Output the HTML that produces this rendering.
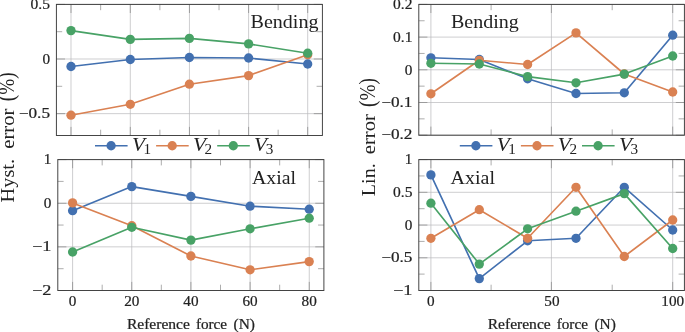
<!DOCTYPE html>
<html><head><meta charset="utf-8"><title>Hysteresis and linearity error</title>
<style>html,body{margin:0;padding:0;background:#fff;}svg{display:block;will-change:transform;}text{font-family:"Liberation Serif",serif;fill:#222222;}</style>
</head><body>
<svg width="685" height="332" viewBox="0 0 685 332">
<rect x="0" y="0" width="685" height="332" fill="#ffffff"/>
<line x1="71.0" y1="4.4" x2="71.0" y2="135.5" stroke="#b9b9bc" stroke-width="0.7"/>
<line x1="130.3" y1="4.4" x2="130.3" y2="135.5" stroke="#b9b9bc" stroke-width="0.7"/>
<line x1="189.45" y1="4.4" x2="189.45" y2="135.5" stroke="#b9b9bc" stroke-width="0.7"/>
<line x1="248.6" y1="4.4" x2="248.6" y2="135.5" stroke="#b9b9bc" stroke-width="0.7"/>
<line x1="307.7" y1="4.4" x2="307.7" y2="135.5" stroke="#b9b9bc" stroke-width="0.7"/>
<line x1="56.4" y1="4.4" x2="322.4" y2="4.4" stroke="#b9b9bc" stroke-width="0.7"/>
<line x1="56.4" y1="59.0" x2="322.4" y2="59.0" stroke="#b9b9bc" stroke-width="0.7"/>
<line x1="56.4" y1="113.65" x2="322.4" y2="113.65" stroke="#b9b9bc" stroke-width="0.7"/>
<line x1="71.0" y1="4.4" x2="71.0" y2="13.0" stroke="#7e7e7e" stroke-width="0.64"/>
<line x1="71.0" y1="135.5" x2="71.0" y2="126.9" stroke="#7e7e7e" stroke-width="0.64"/>
<line x1="130.3" y1="4.4" x2="130.3" y2="13.0" stroke="#7e7e7e" stroke-width="0.64"/>
<line x1="130.3" y1="135.5" x2="130.3" y2="126.9" stroke="#7e7e7e" stroke-width="0.64"/>
<line x1="189.45" y1="4.4" x2="189.45" y2="13.0" stroke="#7e7e7e" stroke-width="0.64"/>
<line x1="189.45" y1="135.5" x2="189.45" y2="126.9" stroke="#7e7e7e" stroke-width="0.64"/>
<line x1="248.6" y1="4.4" x2="248.6" y2="13.0" stroke="#7e7e7e" stroke-width="0.64"/>
<line x1="248.6" y1="135.5" x2="248.6" y2="126.9" stroke="#7e7e7e" stroke-width="0.64"/>
<line x1="307.7" y1="4.4" x2="307.7" y2="13.0" stroke="#7e7e7e" stroke-width="0.64"/>
<line x1="307.7" y1="135.5" x2="307.7" y2="126.9" stroke="#7e7e7e" stroke-width="0.64"/>
<line x1="56.4" y1="4.4" x2="65.0" y2="4.4" stroke="#7e7e7e" stroke-width="0.64"/>
<line x1="322.4" y1="4.4" x2="313.79999999999995" y2="4.4" stroke="#7e7e7e" stroke-width="0.64"/>
<line x1="56.4" y1="59.0" x2="65.0" y2="59.0" stroke="#7e7e7e" stroke-width="0.64"/>
<line x1="322.4" y1="59.0" x2="313.79999999999995" y2="59.0" stroke="#7e7e7e" stroke-width="0.64"/>
<line x1="56.4" y1="113.65" x2="65.0" y2="113.65" stroke="#7e7e7e" stroke-width="0.64"/>
<line x1="322.4" y1="113.65" x2="313.79999999999995" y2="113.65" stroke="#7e7e7e" stroke-width="0.64"/>
<line x1="100.65" y1="4.4" x2="100.65" y2="10.2" stroke="#7e7e7e" stroke-width="0.64"/>
<line x1="100.65" y1="135.5" x2="100.65" y2="129.7" stroke="#7e7e7e" stroke-width="0.64"/>
<line x1="159.875" y1="4.4" x2="159.875" y2="10.2" stroke="#7e7e7e" stroke-width="0.64"/>
<line x1="159.875" y1="135.5" x2="159.875" y2="129.7" stroke="#7e7e7e" stroke-width="0.64"/>
<line x1="219.02499999999998" y1="4.4" x2="219.02499999999998" y2="10.2" stroke="#7e7e7e" stroke-width="0.64"/>
<line x1="219.02499999999998" y1="135.5" x2="219.02499999999998" y2="129.7" stroke="#7e7e7e" stroke-width="0.64"/>
<line x1="278.15" y1="4.4" x2="278.15" y2="10.2" stroke="#7e7e7e" stroke-width="0.64"/>
<line x1="278.15" y1="135.5" x2="278.15" y2="129.7" stroke="#7e7e7e" stroke-width="0.64"/>
<line x1="56.4" y1="31.7" x2="62.199999999999996" y2="31.7" stroke="#7e7e7e" stroke-width="0.64"/>
<line x1="322.4" y1="31.7" x2="316.59999999999997" y2="31.7" stroke="#7e7e7e" stroke-width="0.64"/>
<line x1="56.4" y1="86.3" x2="62.199999999999996" y2="86.3" stroke="#7e7e7e" stroke-width="0.64"/>
<line x1="322.4" y1="86.3" x2="316.59999999999997" y2="86.3" stroke="#7e7e7e" stroke-width="0.64"/>
<polyline points="71.0,66.5 130.3,59.5 189.4,57.5 248.6,58.0 307.7,64.0" fill="none" stroke="#4270b0" stroke-width="1.65" stroke-linejoin="round"/>
<circle cx="71.0" cy="66.5" r="4.65" fill="#4270b0"/>
<circle cx="130.3" cy="59.5" r="4.65" fill="#4270b0"/>
<circle cx="189.4" cy="57.5" r="4.65" fill="#4270b0"/>
<circle cx="248.6" cy="58.0" r="4.65" fill="#4270b0"/>
<circle cx="307.7" cy="64.0" r="4.65" fill="#4270b0"/>
<polyline points="71.0,115.2 130.3,104.3 189.4,84.2 248.6,75.6 307.7,54.7" fill="none" stroke="#da8152" stroke-width="1.65" stroke-linejoin="round"/>
<circle cx="71.0" cy="115.2" r="4.65" fill="#da8152"/>
<circle cx="130.3" cy="104.3" r="4.65" fill="#da8152"/>
<circle cx="189.4" cy="84.2" r="4.65" fill="#da8152"/>
<circle cx="248.6" cy="75.6" r="4.65" fill="#da8152"/>
<circle cx="307.7" cy="54.7" r="4.65" fill="#da8152"/>
<polyline points="71.0,30.6 130.3,39.4 189.4,38.4 248.6,43.9 307.7,53.2" fill="none" stroke="#48a266" stroke-width="1.65" stroke-linejoin="round"/>
<circle cx="71.0" cy="30.6" r="4.65" fill="#48a266"/>
<circle cx="130.3" cy="39.4" r="4.65" fill="#48a266"/>
<circle cx="189.4" cy="38.4" r="4.65" fill="#48a266"/>
<circle cx="248.6" cy="43.9" r="4.65" fill="#48a266"/>
<circle cx="307.7" cy="53.2" r="4.65" fill="#48a266"/>
<rect x="56.4" y="4.4" width="266.0" height="131.1" fill="none" stroke="#3c3c3c" stroke-width="0.95"/>
<text x="30.6" y="9.1" font-size="14.2" text-anchor="start" textLength="19.4" lengthAdjust="spacingAndGlyphs" stroke="#222222" stroke-width="0.22">0.5</text>
<text x="42.4" y="63.7" font-size="14.2" text-anchor="start" textLength="7.6" lengthAdjust="spacingAndGlyphs" stroke="#222222" stroke-width="0.22">0</text>
<text x="18.8" y="117.8" font-size="14.2" text-anchor="start" textLength="31.2" lengthAdjust="spacingAndGlyphs" stroke="#222222" stroke-width="0.22">−0.5</text>
<text x="250.6" y="28.4" font-size="18.8" text-anchor="start" textLength="67.8" lengthAdjust="spacingAndGlyphs">Bending</text>
<line x1="95.0" y1="145.75" x2="127.6" y2="145.75" stroke="#4270b0" stroke-width="1.65"/>
<circle cx="111.1" cy="145.75" r="4.65" fill="#4270b0"/>
<text x="131.9" y="151.3" font-size="19.8" font-style="italic" textLength="13.0" lengthAdjust="spacingAndGlyphs">V</text>
<text x="143.5" y="154.2" font-size="14.8" textLength="7.6" lengthAdjust="spacingAndGlyphs">1</text>
<line x1="156.1" y1="145.75" x2="188.7" y2="145.75" stroke="#da8152" stroke-width="1.65"/>
<circle cx="172.2" cy="145.75" r="4.65" fill="#da8152"/>
<text x="193.0" y="151.3" font-size="19.8" font-style="italic" textLength="13.0" lengthAdjust="spacingAndGlyphs">V</text>
<text x="204.6" y="154.2" font-size="14.8" textLength="7.6" lengthAdjust="spacingAndGlyphs">2</text>
<line x1="217.2" y1="145.75" x2="249.8" y2="145.75" stroke="#48a266" stroke-width="1.65"/>
<circle cx="233.3" cy="145.75" r="4.65" fill="#48a266"/>
<text x="254.1" y="151.3" font-size="19.8" font-style="italic" textLength="13.0" lengthAdjust="spacingAndGlyphs">V</text>
<text x="265.7" y="154.2" font-size="14.8" textLength="7.6" lengthAdjust="spacingAndGlyphs">3</text>
<line x1="72.6" y1="159.6" x2="72.6" y2="290.5" stroke="#b9b9bc" stroke-width="0.7"/>
<line x1="131.75" y1="159.6" x2="131.75" y2="290.5" stroke="#b9b9bc" stroke-width="0.7"/>
<line x1="190.9" y1="159.6" x2="190.9" y2="290.5" stroke="#b9b9bc" stroke-width="0.7"/>
<line x1="250.1" y1="159.6" x2="250.1" y2="290.5" stroke="#b9b9bc" stroke-width="0.7"/>
<line x1="309.25" y1="159.6" x2="309.25" y2="290.5" stroke="#b9b9bc" stroke-width="0.7"/>
<line x1="57.8" y1="159.6" x2="323.85" y2="159.6" stroke="#b9b9bc" stroke-width="0.7"/>
<line x1="57.8" y1="203.25" x2="323.85" y2="203.25" stroke="#b9b9bc" stroke-width="0.7"/>
<line x1="57.8" y1="246.85" x2="323.85" y2="246.85" stroke="#b9b9bc" stroke-width="0.7"/>
<line x1="57.8" y1="290.5" x2="323.85" y2="290.5" stroke="#b9b9bc" stroke-width="0.7"/>
<line x1="72.6" y1="159.6" x2="72.6" y2="168.2" stroke="#7e7e7e" stroke-width="0.64"/>
<line x1="72.6" y1="290.5" x2="72.6" y2="281.9" stroke="#7e7e7e" stroke-width="0.64"/>
<line x1="131.75" y1="159.6" x2="131.75" y2="168.2" stroke="#7e7e7e" stroke-width="0.64"/>
<line x1="131.75" y1="290.5" x2="131.75" y2="281.9" stroke="#7e7e7e" stroke-width="0.64"/>
<line x1="190.9" y1="159.6" x2="190.9" y2="168.2" stroke="#7e7e7e" stroke-width="0.64"/>
<line x1="190.9" y1="290.5" x2="190.9" y2="281.9" stroke="#7e7e7e" stroke-width="0.64"/>
<line x1="250.1" y1="159.6" x2="250.1" y2="168.2" stroke="#7e7e7e" stroke-width="0.64"/>
<line x1="250.1" y1="290.5" x2="250.1" y2="281.9" stroke="#7e7e7e" stroke-width="0.64"/>
<line x1="309.25" y1="159.6" x2="309.25" y2="168.2" stroke="#7e7e7e" stroke-width="0.64"/>
<line x1="309.25" y1="290.5" x2="309.25" y2="281.9" stroke="#7e7e7e" stroke-width="0.64"/>
<line x1="57.8" y1="159.6" x2="66.39999999999999" y2="159.6" stroke="#7e7e7e" stroke-width="0.64"/>
<line x1="323.85" y1="159.6" x2="315.25" y2="159.6" stroke="#7e7e7e" stroke-width="0.64"/>
<line x1="57.8" y1="203.25" x2="66.39999999999999" y2="203.25" stroke="#7e7e7e" stroke-width="0.64"/>
<line x1="323.85" y1="203.25" x2="315.25" y2="203.25" stroke="#7e7e7e" stroke-width="0.64"/>
<line x1="57.8" y1="246.85" x2="66.39999999999999" y2="246.85" stroke="#7e7e7e" stroke-width="0.64"/>
<line x1="323.85" y1="246.85" x2="315.25" y2="246.85" stroke="#7e7e7e" stroke-width="0.64"/>
<line x1="57.8" y1="290.5" x2="66.39999999999999" y2="290.5" stroke="#7e7e7e" stroke-width="0.64"/>
<line x1="323.85" y1="290.5" x2="315.25" y2="290.5" stroke="#7e7e7e" stroke-width="0.64"/>
<line x1="102.175" y1="159.6" x2="102.175" y2="165.4" stroke="#7e7e7e" stroke-width="0.64"/>
<line x1="102.175" y1="290.5" x2="102.175" y2="284.7" stroke="#7e7e7e" stroke-width="0.64"/>
<line x1="161.325" y1="159.6" x2="161.325" y2="165.4" stroke="#7e7e7e" stroke-width="0.64"/>
<line x1="161.325" y1="290.5" x2="161.325" y2="284.7" stroke="#7e7e7e" stroke-width="0.64"/>
<line x1="220.5" y1="159.6" x2="220.5" y2="165.4" stroke="#7e7e7e" stroke-width="0.64"/>
<line x1="220.5" y1="290.5" x2="220.5" y2="284.7" stroke="#7e7e7e" stroke-width="0.64"/>
<line x1="279.675" y1="159.6" x2="279.675" y2="165.4" stroke="#7e7e7e" stroke-width="0.64"/>
<line x1="279.675" y1="290.5" x2="279.675" y2="284.7" stroke="#7e7e7e" stroke-width="0.64"/>
<line x1="57.8" y1="181.4" x2="63.599999999999994" y2="181.4" stroke="#7e7e7e" stroke-width="0.64"/>
<line x1="323.85" y1="181.4" x2="318.05" y2="181.4" stroke="#7e7e7e" stroke-width="0.64"/>
<line x1="57.8" y1="225.05" x2="63.599999999999994" y2="225.05" stroke="#7e7e7e" stroke-width="0.64"/>
<line x1="323.85" y1="225.05" x2="318.05" y2="225.05" stroke="#7e7e7e" stroke-width="0.64"/>
<line x1="57.8" y1="268.7" x2="63.599999999999994" y2="268.7" stroke="#7e7e7e" stroke-width="0.64"/>
<line x1="323.85" y1="268.7" x2="318.05" y2="268.7" stroke="#7e7e7e" stroke-width="0.64"/>
<polyline points="72.6,210.7 131.8,186.6 190.9,196.4 250.1,206.2 309.2,209.2" fill="none" stroke="#4270b0" stroke-width="1.65" stroke-linejoin="round"/>
<circle cx="72.6" cy="210.7" r="4.65" fill="#4270b0"/>
<circle cx="131.8" cy="186.6" r="4.65" fill="#4270b0"/>
<circle cx="190.9" cy="196.4" r="4.65" fill="#4270b0"/>
<circle cx="250.1" cy="206.2" r="4.65" fill="#4270b0"/>
<circle cx="309.2" cy="209.2" r="4.65" fill="#4270b0"/>
<polyline points="72.6,202.9 131.8,225.7 190.9,256.0 250.1,269.8 309.2,261.6" fill="none" stroke="#da8152" stroke-width="1.65" stroke-linejoin="round"/>
<circle cx="72.6" cy="202.9" r="4.65" fill="#da8152"/>
<circle cx="131.8" cy="225.7" r="4.65" fill="#da8152"/>
<circle cx="190.9" cy="256.0" r="4.65" fill="#da8152"/>
<circle cx="250.1" cy="269.8" r="4.65" fill="#da8152"/>
<circle cx="309.2" cy="261.6" r="4.65" fill="#da8152"/>
<polyline points="72.6,252.0 131.8,227.3 190.9,240.1 250.1,228.8 309.2,218.2" fill="none" stroke="#48a266" stroke-width="1.65" stroke-linejoin="round"/>
<circle cx="72.6" cy="252.0" r="4.65" fill="#48a266"/>
<circle cx="131.8" cy="227.3" r="4.65" fill="#48a266"/>
<circle cx="190.9" cy="240.1" r="4.65" fill="#48a266"/>
<circle cx="250.1" cy="228.8" r="4.65" fill="#48a266"/>
<circle cx="309.2" cy="218.2" r="4.65" fill="#48a266"/>
<rect x="57.8" y="159.6" width="266.1" height="130.9" fill="none" stroke="#3c3c3c" stroke-width="0.95"/>
<text x="43.8" y="164.3" font-size="14.2" text-anchor="start" textLength="7.6" lengthAdjust="spacingAndGlyphs" stroke="#222222" stroke-width="0.22">1</text>
<text x="43.8" y="207.9" font-size="14.2" text-anchor="start" textLength="7.6" lengthAdjust="spacingAndGlyphs" stroke="#222222" stroke-width="0.22">0</text>
<text x="32.0" y="250.9" font-size="14.2" text-anchor="start" textLength="19.4" lengthAdjust="spacingAndGlyphs" stroke="#222222" stroke-width="0.22">−1</text>
<text x="32.0" y="294.6" font-size="14.2" text-anchor="start" textLength="19.4" lengthAdjust="spacingAndGlyphs" stroke="#222222" stroke-width="0.22">−2</text>
<text x="68.8" y="306.4" font-size="14.2" text-anchor="start" textLength="7.6" lengthAdjust="spacingAndGlyphs" stroke="#222222" stroke-width="0.22">0</text>
<text x="124.2" y="306.4" font-size="14.2" text-anchor="start" textLength="15.2" lengthAdjust="spacingAndGlyphs" stroke="#222222" stroke-width="0.22">20</text>
<text x="183.3" y="306.4" font-size="14.2" text-anchor="start" textLength="15.2" lengthAdjust="spacingAndGlyphs" stroke="#222222" stroke-width="0.22">40</text>
<text x="242.5" y="306.4" font-size="14.2" text-anchor="start" textLength="15.2" lengthAdjust="spacingAndGlyphs" stroke="#222222" stroke-width="0.22">60</text>
<text x="301.6" y="306.4" font-size="14.2" text-anchor="start" textLength="15.2" lengthAdjust="spacingAndGlyphs" stroke="#222222" stroke-width="0.22">80</text>
<text x="252.0" y="184.0" font-size="18.8" text-anchor="start" textLength="44.0" lengthAdjust="spacingAndGlyphs">Axial</text>
<line x1="430.9" y1="4.4" x2="430.9" y2="135.2" stroke="#b9b9bc" stroke-width="0.7"/>
<line x1="551.4" y1="4.4" x2="551.4" y2="135.2" stroke="#b9b9bc" stroke-width="0.7"/>
<line x1="672.7" y1="4.4" x2="672.7" y2="135.2" stroke="#b9b9bc" stroke-width="0.7"/>
<line x1="418.8" y1="4.4" x2="684.4" y2="4.4" stroke="#b9b9bc" stroke-width="0.7"/>
<line x1="418.8" y1="37.1" x2="684.4" y2="37.1" stroke="#b9b9bc" stroke-width="0.7"/>
<line x1="418.8" y1="69.8" x2="684.4" y2="69.8" stroke="#b9b9bc" stroke-width="0.7"/>
<line x1="418.8" y1="102.5" x2="684.4" y2="102.5" stroke="#b9b9bc" stroke-width="0.7"/>
<line x1="418.8" y1="135.2" x2="684.4" y2="135.2" stroke="#b9b9bc" stroke-width="0.7"/>
<line x1="430.9" y1="4.4" x2="430.9" y2="13.0" stroke="#7e7e7e" stroke-width="0.64"/>
<line x1="430.9" y1="135.2" x2="430.9" y2="126.6" stroke="#7e7e7e" stroke-width="0.64"/>
<line x1="551.4" y1="4.4" x2="551.4" y2="13.0" stroke="#7e7e7e" stroke-width="0.64"/>
<line x1="551.4" y1="135.2" x2="551.4" y2="126.6" stroke="#7e7e7e" stroke-width="0.64"/>
<line x1="672.7" y1="4.4" x2="672.7" y2="13.0" stroke="#7e7e7e" stroke-width="0.64"/>
<line x1="672.7" y1="135.2" x2="672.7" y2="126.6" stroke="#7e7e7e" stroke-width="0.64"/>
<line x1="418.8" y1="4.4" x2="427.40000000000003" y2="4.4" stroke="#7e7e7e" stroke-width="0.64"/>
<line x1="684.4" y1="4.4" x2="675.8" y2="4.4" stroke="#7e7e7e" stroke-width="0.64"/>
<line x1="418.8" y1="37.1" x2="427.40000000000003" y2="37.1" stroke="#7e7e7e" stroke-width="0.64"/>
<line x1="684.4" y1="37.1" x2="675.8" y2="37.1" stroke="#7e7e7e" stroke-width="0.64"/>
<line x1="418.8" y1="69.8" x2="427.40000000000003" y2="69.8" stroke="#7e7e7e" stroke-width="0.64"/>
<line x1="684.4" y1="69.8" x2="675.8" y2="69.8" stroke="#7e7e7e" stroke-width="0.64"/>
<line x1="418.8" y1="102.5" x2="427.40000000000003" y2="102.5" stroke="#7e7e7e" stroke-width="0.64"/>
<line x1="684.4" y1="102.5" x2="675.8" y2="102.5" stroke="#7e7e7e" stroke-width="0.64"/>
<line x1="418.8" y1="135.2" x2="427.40000000000003" y2="135.2" stroke="#7e7e7e" stroke-width="0.64"/>
<line x1="684.4" y1="135.2" x2="675.8" y2="135.2" stroke="#7e7e7e" stroke-width="0.64"/>
<line x1="491.1" y1="4.4" x2="491.1" y2="10.2" stroke="#7e7e7e" stroke-width="0.64"/>
<line x1="491.1" y1="135.2" x2="491.1" y2="129.39999999999998" stroke="#7e7e7e" stroke-width="0.64"/>
<line x1="612.2" y1="4.4" x2="612.2" y2="10.2" stroke="#7e7e7e" stroke-width="0.64"/>
<line x1="612.2" y1="135.2" x2="612.2" y2="129.39999999999998" stroke="#7e7e7e" stroke-width="0.64"/>
<line x1="418.8" y1="20.75" x2="424.6" y2="20.75" stroke="#7e7e7e" stroke-width="0.64"/>
<line x1="684.4" y1="20.75" x2="678.6" y2="20.75" stroke="#7e7e7e" stroke-width="0.64"/>
<line x1="418.8" y1="53.45" x2="424.6" y2="53.45" stroke="#7e7e7e" stroke-width="0.64"/>
<line x1="684.4" y1="53.45" x2="678.6" y2="53.45" stroke="#7e7e7e" stroke-width="0.64"/>
<line x1="418.8" y1="86.15" x2="424.6" y2="86.15" stroke="#7e7e7e" stroke-width="0.64"/>
<line x1="684.4" y1="86.15" x2="678.6" y2="86.15" stroke="#7e7e7e" stroke-width="0.64"/>
<line x1="418.8" y1="118.85" x2="424.6" y2="118.85" stroke="#7e7e7e" stroke-width="0.64"/>
<line x1="684.4" y1="118.85" x2="678.6" y2="118.85" stroke="#7e7e7e" stroke-width="0.64"/>
<polyline points="430.9,57.8 479.3,59.5 527.6,78.8 576.0,93.5 624.3,92.8 672.7,35.2" fill="none" stroke="#4270b0" stroke-width="1.65" stroke-linejoin="round"/>
<circle cx="430.9" cy="57.8" r="4.65" fill="#4270b0"/>
<circle cx="479.3" cy="59.5" r="4.65" fill="#4270b0"/>
<circle cx="527.6" cy="78.8" r="4.65" fill="#4270b0"/>
<circle cx="576.0" cy="93.5" r="4.65" fill="#4270b0"/>
<circle cx="624.3" cy="92.8" r="4.65" fill="#4270b0"/>
<circle cx="672.7" cy="35.2" r="4.65" fill="#4270b0"/>
<polyline points="430.9,93.8 479.3,60.3 527.6,64.5 576.0,32.9 624.3,74.0 672.7,92.0" fill="none" stroke="#da8152" stroke-width="1.65" stroke-linejoin="round"/>
<circle cx="430.9" cy="93.8" r="4.65" fill="#da8152"/>
<circle cx="479.3" cy="60.3" r="4.65" fill="#da8152"/>
<circle cx="527.6" cy="64.5" r="4.65" fill="#da8152"/>
<circle cx="576.0" cy="32.9" r="4.65" fill="#da8152"/>
<circle cx="624.3" cy="74.0" r="4.65" fill="#da8152"/>
<circle cx="672.7" cy="92.0" r="4.65" fill="#da8152"/>
<polyline points="430.9,63.3 479.3,64.0 527.6,76.6 576.0,82.8 624.3,74.1 672.7,56.0" fill="none" stroke="#48a266" stroke-width="1.65" stroke-linejoin="round"/>
<circle cx="430.9" cy="63.3" r="4.65" fill="#48a266"/>
<circle cx="479.3" cy="64.0" r="4.65" fill="#48a266"/>
<circle cx="527.6" cy="76.6" r="4.65" fill="#48a266"/>
<circle cx="576.0" cy="82.8" r="4.65" fill="#48a266"/>
<circle cx="624.3" cy="74.1" r="4.65" fill="#48a266"/>
<circle cx="672.7" cy="56.0" r="4.65" fill="#48a266"/>
<rect x="418.8" y="4.4" width="265.6" height="130.8" fill="none" stroke="#3c3c3c" stroke-width="0.95"/>
<text x="393.0" y="9.1" font-size="14.2" text-anchor="start" textLength="19.4" lengthAdjust="spacingAndGlyphs" stroke="#222222" stroke-width="0.22">0.2</text>
<text x="393.0" y="41.8" font-size="14.2" text-anchor="start" textLength="19.4" lengthAdjust="spacingAndGlyphs" stroke="#222222" stroke-width="0.22">0.1</text>
<text x="404.8" y="74.5" font-size="14.2" text-anchor="start" textLength="7.6" lengthAdjust="spacingAndGlyphs" stroke="#222222" stroke-width="0.22">0</text>
<text x="381.2" y="106.6" font-size="14.2" text-anchor="start" textLength="31.2" lengthAdjust="spacingAndGlyphs" stroke="#222222" stroke-width="0.22">−0.1</text>
<text x="381.2" y="139.3" font-size="14.2" text-anchor="start" textLength="31.2" lengthAdjust="spacingAndGlyphs" stroke="#222222" stroke-width="0.22">−0.2</text>
<text x="451.0" y="28.4" font-size="18.8" text-anchor="start" textLength="67.8" lengthAdjust="spacingAndGlyphs">Bending</text>
<line x1="459.8" y1="145.75" x2="492.4" y2="145.75" stroke="#4270b0" stroke-width="1.65"/>
<circle cx="475.9" cy="145.75" r="4.65" fill="#4270b0"/>
<text x="496.7" y="151.3" font-size="19.8" font-style="italic" textLength="13.0" lengthAdjust="spacingAndGlyphs">V</text>
<text x="508.3" y="154.2" font-size="14.8" textLength="7.6" lengthAdjust="spacingAndGlyphs">1</text>
<line x1="520.9" y1="145.75" x2="553.5" y2="145.75" stroke="#da8152" stroke-width="1.65"/>
<circle cx="537.0" cy="145.75" r="4.65" fill="#da8152"/>
<text x="557.8" y="151.3" font-size="19.8" font-style="italic" textLength="13.0" lengthAdjust="spacingAndGlyphs">V</text>
<text x="569.4" y="154.2" font-size="14.8" textLength="7.6" lengthAdjust="spacingAndGlyphs">2</text>
<line x1="582.0" y1="145.75" x2="614.6" y2="145.75" stroke="#48a266" stroke-width="1.65"/>
<circle cx="598.1" cy="145.75" r="4.65" fill="#48a266"/>
<text x="618.9" y="151.3" font-size="19.8" font-style="italic" textLength="13.0" lengthAdjust="spacingAndGlyphs">V</text>
<text x="630.5" y="154.2" font-size="14.8" textLength="7.6" lengthAdjust="spacingAndGlyphs">3</text>
<line x1="430.9" y1="159.6" x2="430.9" y2="290.5" stroke="#b9b9bc" stroke-width="0.7"/>
<line x1="551.4" y1="159.6" x2="551.4" y2="290.5" stroke="#b9b9bc" stroke-width="0.7"/>
<line x1="672.7" y1="159.6" x2="672.7" y2="290.5" stroke="#b9b9bc" stroke-width="0.7"/>
<line x1="418.8" y1="159.6" x2="684.4" y2="159.6" stroke="#b9b9bc" stroke-width="0.7"/>
<line x1="418.8" y1="192.3" x2="684.4" y2="192.3" stroke="#b9b9bc" stroke-width="0.7"/>
<line x1="418.8" y1="225.05" x2="684.4" y2="225.05" stroke="#b9b9bc" stroke-width="0.7"/>
<line x1="418.8" y1="257.8" x2="684.4" y2="257.8" stroke="#b9b9bc" stroke-width="0.7"/>
<line x1="418.8" y1="290.5" x2="684.4" y2="290.5" stroke="#b9b9bc" stroke-width="0.7"/>
<line x1="430.9" y1="159.6" x2="430.9" y2="168.2" stroke="#7e7e7e" stroke-width="0.64"/>
<line x1="430.9" y1="290.5" x2="430.9" y2="281.9" stroke="#7e7e7e" stroke-width="0.64"/>
<line x1="551.4" y1="159.6" x2="551.4" y2="168.2" stroke="#7e7e7e" stroke-width="0.64"/>
<line x1="551.4" y1="290.5" x2="551.4" y2="281.9" stroke="#7e7e7e" stroke-width="0.64"/>
<line x1="672.7" y1="159.6" x2="672.7" y2="168.2" stroke="#7e7e7e" stroke-width="0.64"/>
<line x1="672.7" y1="290.5" x2="672.7" y2="281.9" stroke="#7e7e7e" stroke-width="0.64"/>
<line x1="418.8" y1="159.6" x2="427.40000000000003" y2="159.6" stroke="#7e7e7e" stroke-width="0.64"/>
<line x1="684.4" y1="159.6" x2="675.8" y2="159.6" stroke="#7e7e7e" stroke-width="0.64"/>
<line x1="418.8" y1="192.3" x2="427.40000000000003" y2="192.3" stroke="#7e7e7e" stroke-width="0.64"/>
<line x1="684.4" y1="192.3" x2="675.8" y2="192.3" stroke="#7e7e7e" stroke-width="0.64"/>
<line x1="418.8" y1="225.05" x2="427.40000000000003" y2="225.05" stroke="#7e7e7e" stroke-width="0.64"/>
<line x1="684.4" y1="225.05" x2="675.8" y2="225.05" stroke="#7e7e7e" stroke-width="0.64"/>
<line x1="418.8" y1="257.8" x2="427.40000000000003" y2="257.8" stroke="#7e7e7e" stroke-width="0.64"/>
<line x1="684.4" y1="257.8" x2="675.8" y2="257.8" stroke="#7e7e7e" stroke-width="0.64"/>
<line x1="418.8" y1="290.5" x2="427.40000000000003" y2="290.5" stroke="#7e7e7e" stroke-width="0.64"/>
<line x1="684.4" y1="290.5" x2="675.8" y2="290.5" stroke="#7e7e7e" stroke-width="0.64"/>
<line x1="491.1" y1="159.6" x2="491.1" y2="165.4" stroke="#7e7e7e" stroke-width="0.64"/>
<line x1="491.1" y1="290.5" x2="491.1" y2="284.7" stroke="#7e7e7e" stroke-width="0.64"/>
<line x1="612.2" y1="159.6" x2="612.2" y2="165.4" stroke="#7e7e7e" stroke-width="0.64"/>
<line x1="612.2" y1="290.5" x2="612.2" y2="284.7" stroke="#7e7e7e" stroke-width="0.64"/>
<line x1="418.8" y1="175.95" x2="424.6" y2="175.95" stroke="#7e7e7e" stroke-width="0.64"/>
<line x1="684.4" y1="175.95" x2="678.6" y2="175.95" stroke="#7e7e7e" stroke-width="0.64"/>
<line x1="418.8" y1="208.7" x2="424.6" y2="208.7" stroke="#7e7e7e" stroke-width="0.64"/>
<line x1="684.4" y1="208.7" x2="678.6" y2="208.7" stroke="#7e7e7e" stroke-width="0.64"/>
<line x1="418.8" y1="241.4" x2="424.6" y2="241.4" stroke="#7e7e7e" stroke-width="0.64"/>
<line x1="684.4" y1="241.4" x2="678.6" y2="241.4" stroke="#7e7e7e" stroke-width="0.64"/>
<line x1="418.8" y1="274.1" x2="424.6" y2="274.1" stroke="#7e7e7e" stroke-width="0.64"/>
<line x1="684.4" y1="274.1" x2="678.6" y2="274.1" stroke="#7e7e7e" stroke-width="0.64"/>
<polyline points="430.9,174.9 479.3,278.6 527.6,240.8 576.0,238.3 624.3,187.3 672.7,230.0" fill="none" stroke="#4270b0" stroke-width="1.65" stroke-linejoin="round"/>
<circle cx="430.9" cy="174.9" r="4.65" fill="#4270b0"/>
<circle cx="479.3" cy="278.6" r="4.65" fill="#4270b0"/>
<circle cx="527.6" cy="240.8" r="4.65" fill="#4270b0"/>
<circle cx="576.0" cy="238.3" r="4.65" fill="#4270b0"/>
<circle cx="624.3" cy="187.3" r="4.65" fill="#4270b0"/>
<circle cx="672.7" cy="230.0" r="4.65" fill="#4270b0"/>
<polyline points="430.9,238.3 479.3,209.7 527.6,238.3 576.0,187.3 624.3,256.5 672.7,220.0" fill="none" stroke="#da8152" stroke-width="1.65" stroke-linejoin="round"/>
<circle cx="430.9" cy="238.3" r="4.65" fill="#da8152"/>
<circle cx="479.3" cy="209.7" r="4.65" fill="#da8152"/>
<circle cx="527.6" cy="238.3" r="4.65" fill="#da8152"/>
<circle cx="576.0" cy="187.3" r="4.65" fill="#da8152"/>
<circle cx="624.3" cy="256.5" r="4.65" fill="#da8152"/>
<circle cx="672.7" cy="220.0" r="4.65" fill="#da8152"/>
<polyline points="430.9,203.2 479.3,264.1 527.6,228.8 576.0,211.2 624.3,193.6 672.7,248.5" fill="none" stroke="#48a266" stroke-width="1.65" stroke-linejoin="round"/>
<circle cx="430.9" cy="203.2" r="4.65" fill="#48a266"/>
<circle cx="479.3" cy="264.1" r="4.65" fill="#48a266"/>
<circle cx="527.6" cy="228.8" r="4.65" fill="#48a266"/>
<circle cx="576.0" cy="211.2" r="4.65" fill="#48a266"/>
<circle cx="624.3" cy="193.6" r="4.65" fill="#48a266"/>
<circle cx="672.7" cy="248.5" r="4.65" fill="#48a266"/>
<rect x="418.8" y="159.6" width="265.6" height="130.9" fill="none" stroke="#3c3c3c" stroke-width="0.95"/>
<text x="404.8" y="164.3" font-size="14.2" text-anchor="start" textLength="7.6" lengthAdjust="spacingAndGlyphs" stroke="#222222" stroke-width="0.22">1</text>
<text x="393.0" y="197.0" font-size="14.2" text-anchor="start" textLength="19.4" lengthAdjust="spacingAndGlyphs" stroke="#222222" stroke-width="0.22">0.5</text>
<text x="404.8" y="229.8" font-size="14.2" text-anchor="start" textLength="7.6" lengthAdjust="spacingAndGlyphs" stroke="#222222" stroke-width="0.22">0</text>
<text x="381.2" y="261.9" font-size="14.2" text-anchor="start" textLength="31.2" lengthAdjust="spacingAndGlyphs" stroke="#222222" stroke-width="0.22">−0.5</text>
<text x="393.0" y="294.6" font-size="14.2" text-anchor="start" textLength="19.4" lengthAdjust="spacingAndGlyphs" stroke="#222222" stroke-width="0.22">−1</text>
<text x="427.1" y="306.4" font-size="14.2" text-anchor="start" textLength="7.6" lengthAdjust="spacingAndGlyphs" stroke="#222222" stroke-width="0.22">0</text>
<text x="544.3" y="306.4" font-size="14.2" text-anchor="start" textLength="15.2" lengthAdjust="spacingAndGlyphs" stroke="#222222" stroke-width="0.22">50</text>
<text x="661.3" y="306.4" font-size="14.2" text-anchor="start" textLength="22.8" lengthAdjust="spacingAndGlyphs" stroke="#222222" stroke-width="0.22">100</text>
<text x="450.6" y="183.6" font-size="18.8" text-anchor="start" textLength="44.4" lengthAdjust="spacingAndGlyphs">Axial</text>
<text x="126.9" y="329.0" font-size="14.0" text-anchor="start" textLength="63.0" lengthAdjust="spacingAndGlyphs" stroke="#222222" stroke-width="0.22">Reference</text>
<text x="195.9" y="329.0" font-size="14.0" text-anchor="start" textLength="31.2" lengthAdjust="spacingAndGlyphs" stroke="#222222" stroke-width="0.22">force</text>
<text x="233.6" y="329.0" font-size="14.0" text-anchor="start" textLength="21.4" lengthAdjust="spacingAndGlyphs" stroke="#222222" stroke-width="0.22">(N)</text>
<text x="487.7" y="329.0" font-size="14.0" text-anchor="start" textLength="63.0" lengthAdjust="spacingAndGlyphs" stroke="#222222" stroke-width="0.22">Reference</text>
<text x="556.7" y="329.0" font-size="14.0" text-anchor="start" textLength="31.2" lengthAdjust="spacingAndGlyphs" stroke="#222222" stroke-width="0.22">force</text>
<text x="594.4" y="329.0" font-size="14.0" text-anchor="start" textLength="21.4" lengthAdjust="spacingAndGlyphs" stroke="#222222" stroke-width="0.22">(N)</text>
<text transform="translate(14.4,202.4) rotate(-90)" font-size="18.8" textLength="43.4" lengthAdjust="spacingAndGlyphs">Hyst.</text>
<text transform="translate(14.4,148.8) rotate(-90)" font-size="18.8" textLength="40.2" lengthAdjust="spacingAndGlyphs">error</text>
<text transform="translate(14.4,101.2) rotate(-90)" font-size="22.5" textLength="28.8" lengthAdjust="spacingAndGlyphs">(%)</text>
<text transform="translate(374.5,196.2) rotate(-90)" font-size="18.8" textLength="32.9" lengthAdjust="spacingAndGlyphs">Lin.</text>
<text transform="translate(374.5,154.2) rotate(-90)" font-size="18.8" textLength="40.2" lengthAdjust="spacingAndGlyphs">error</text>
<text transform="translate(374.5,107.0) rotate(-90)" font-size="22.5" textLength="28.8" lengthAdjust="spacingAndGlyphs">(%)</text>
</svg>
</body></html>
